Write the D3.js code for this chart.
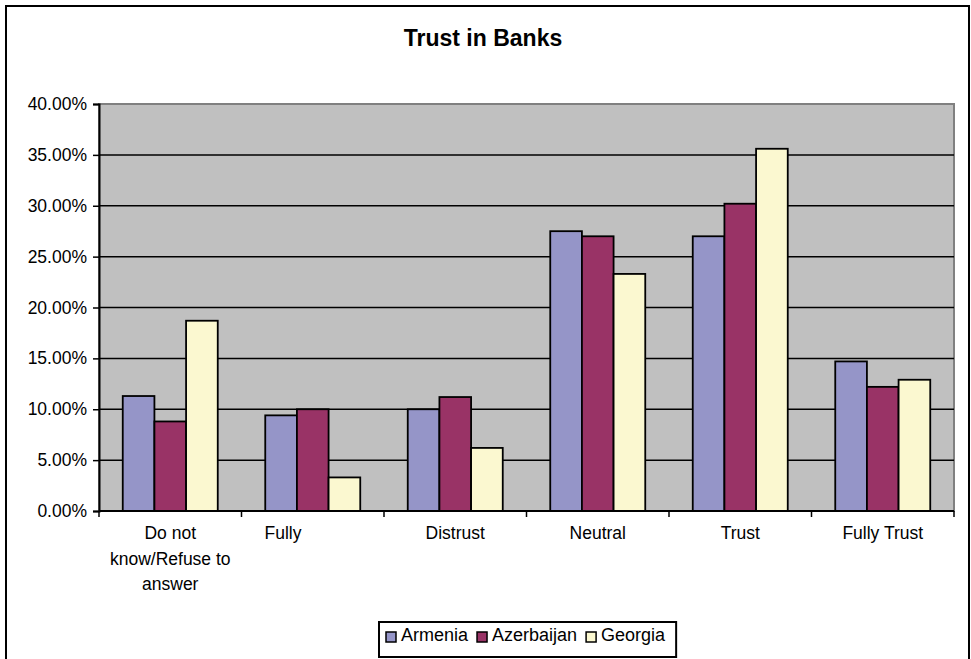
<!DOCTYPE html>
<html>
  <head>
    <meta charset="utf-8">
    <style>
      body { margin: 0; background: #fff; }
      svg { display: block; }
      text { font-family: "Liberation Sans", Arial, sans-serif; fill: #000; }
      .tick text { font-size: 17.5px; }
    </style>
  </head>
  <body>
    <svg id="chart"></svg>
    <script src="https://cdnjs.cloudflare.com/ajax/libs/d3/7.8.5/d3.min.js"></script>
    <script>
      // data (percent)
      var categories = ["Do not\nknow/Refuse to\nanswer", "Fully", "Distrust", "Neutral", "Trust", "Fully Trust"];
      var series = ["Armenia", "Azerbaijan", "Georgia"];
      var armenia    = [11.3, 9.4, 10.0, 27.5, 27.0, 14.7];
      var azerbaijan = [8.8, 10.0, 11.2, 27.0, 30.2, 12.2];
      var georgia    = [18.7, 3.3, 6.2, 23.3, 35.6, 12.9];
      var yTicks = [0, 5, 10, 15, 20, 25, 30, 35, 40];
      var colors = ["#9595c8", "#993366", "#fbf8d0"];

      var values = [armenia, azerbaijan, georgia];
      var W = 971, H = 659;
      var plot = {left: 99, right: 954, top: 104, bottom: 511};

      var svg = d3.select("#chart").attr("width", W).attr("height", H);

      // outer chart border (bottom edge runs past the window)
      svg.append("rect")
        .attr("x", 6).attr("y", 6)
        .attr("width", 963).attr("height", 670)
        .style("fill", "#fff").style("stroke", "#000").style("stroke-width", 2);

      svg.append("text")
        .attr("x", 483).attr("y", 46)
        .attr("text-anchor", "middle")
        .style("font-size", "23px").style("font-weight", "bold")
        .text("Trust in Banks");

      var y = d3.scaleLinear().domain([0, 40]).range([plot.bottom, plot.top]);
      var x0 = d3.scaleBand().domain(d3.range(categories.length)).range([plot.left, plot.right]).padding(0);
      var x1 = d3.scaleBand().domain(d3.range(series.length)).range([0, x0.bandwidth()])
        .paddingInner(0).paddingOuter(0.75);

      // plot area
      svg.append("rect")
        .attr("x", plot.left).attr("y", plot.top)
        .attr("width", plot.right - plot.left).attr("height", plot.bottom - plot.top)
        .style("fill", "#c0c0c0").style("stroke", "#808080").style("stroke-width", 2);

      // gridlines
      svg.append("g").selectAll("line")
        .data(yTicks.filter(function(d){ return d > 0 && d < 40; }))
        .enter().append("line")
        .attr("x1", plot.left).attr("x2", plot.right)
        .attr("y1", function(d){ return y(d); }).attr("y2", function(d){ return y(d); })
        .style("stroke", "#000").style("stroke-width", 1.5);

      // bars
      var groups = svg.append("g").selectAll("g")
        .data(categories).enter().append("g")
        .attr("transform", function(d, i){ return "translate(" + x0(i) + ",0)"; });

      groups.selectAll("rect")
        .data(function(d, i){ return values.map(function(v, s){ return {s: s, v: v[i]}; }); })
        .enter().append("rect")
        .attr("x", function(d){ return x1(d.s); })
        .attr("width", x1.bandwidth())
        .attr("y", function(d){ return y(d.v); })
        .attr("height", function(d){ return y(0) - y(d.v); })
        .style("fill", function(d){ return colors[d.s]; })
        .style("stroke", "#000").style("stroke-width", 1.8);

      // y axis
      var yAxis = svg.append("g")
        .attr("transform", "translate(" + plot.left + ",0)")
        .call(d3.axisLeft(y).tickValues(yTicks).tickSize(6).tickPadding(6)
          .tickFormat(function(d){ return d.toFixed(2) + "%"; }));
      yAxis.select(".domain").style("stroke", "#000").style("stroke-width", 2);
      yAxis.selectAll(".tick line").style("stroke", "#000").style("stroke-width", 1.5);

      // x axis line and category ticks
      svg.append("line")
        .attr("x1", plot.left).attr("x2", plot.right)
        .attr("y1", plot.bottom).attr("y2", plot.bottom)
        .style("stroke", "#000").style("stroke-width", 2);
      svg.append("g").selectAll("line")
        .data(d3.range(categories.length + 1))
        .enter().append("line")
        .attr("x1", function(i){ return plot.left + i * x0.step(); })
        .attr("x2", function(i){ return plot.left + i * x0.step(); })
        .attr("y1", plot.bottom).attr("y2", plot.bottom + 6)
        .style("stroke", "#000").style("stroke-width", 1.5);

      // category labels
      var labels = svg.append("g").selectAll("text")
        .data(categories).enter().append("text")
        .attr("text-anchor", function(d, i){ return i === 1 ? "start" : "middle"; })
        .attr("x", function(d, i){
          // the "Fully" label sits left of its band centre in the original
          return i === 1 ? x0(i) + 23 : x0(i) + x0.bandwidth() / 2;
        })
        .attr("y", 539)
        .style("font-size", "17.5px");
      labels.each(function(d){
        var t = d3.select(this), xx = t.attr("x");
        d.split("\n").forEach(function(line, k){
          t.append("tspan").attr("x", xx).attr("dy", k === 0 ? 0 : 25.5).text(line);
        });
      });

      // legend
      var legend = svg.append("g");
      var box = legend.append("rect")
        .style("fill", "#fff").style("stroke", "#000").style("stroke-width", 2);
      var lx = 386;
      series.forEach(function(name, s){
        legend.append("rect")
          .attr("x", lx).attr("y", 632).attr("width", 10).attr("height", 10)
          .style("fill", colors[s]).style("stroke", "#000").style("stroke-width", 1.5);
        var t = legend.append("text")
          .attr("x", lx + 15).attr("y", 641)
          .style("font-size", "18px").text(name);
        lx += 15 + t.node().getComputedTextLength() + 9;
      });
      box.attr("x", 379).attr("y", 622).attr("width", lx - 9 + 11 - 379).attr("height", 35);
    </script>
  </body>
</html>
